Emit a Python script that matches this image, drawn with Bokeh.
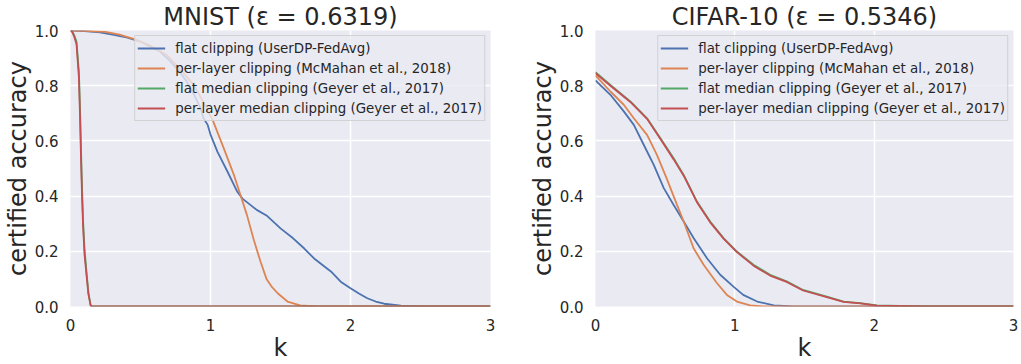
from bokeh.plotting import figure
from bokeh.layouts import row
from bokeh.models import FixedTicker, PrintfTickFormatter, Range1d
from bokeh.embed import file_html
from bokeh.resources import INLINE

labels = [
    "flat clipping (UserDP-FedAvg)",
    "per-layer clipping (McMahan et al., 2018)",
    "flat median clipping (Geyer et al., 2017)",
    "per-layer median clipping (Geyer et al., 2017)",
]
colors = ["#4C72B0", "#DD8452", "#55A868", "#C44E52"]

# MNIST
mnist_k_flat = [0, 0.1, 0.21, 0.3, 0.4, 0.5, 0.57, 0.64, 0.71, 0.78, 0.83, 0.88, 0.93, 0.95, 0.98, 1.0, 1.05, 1.12,
                1.19, 1.23, 1.28, 1.33, 1.40, 1.50, 1.59, 1.67, 1.74, 1.86, 1.93, 2.0, 2.06, 2.12, 2.18, 2.24, 2.36, 2.5, 3.0]
mnist_acc_flat = [1.0, 0.998, 0.993, 0.985, 0.975, 0.96, 0.942, 0.924, 0.89, 0.85, 0.815, 0.77, 0.718, 0.682, 0.658,
                  0.623, 0.56, 0.49, 0.417, 0.39, 0.37, 0.35, 0.33, 0.283, 0.247, 0.21, 0.174, 0.127, 0.09, 0.066,
                  0.047, 0.03, 0.018, 0.01, 0.003, 0.0, 0.0]
mnist_k_pl = [0, 0.1, 0.25, 0.35, 0.45, 0.57, 0.69, 0.8, 0.88, 0.95, 1.02, 1.095, 1.167, 1.21, 1.26, 1.31, 1.357,
              1.40, 1.44, 1.48, 1.55, 1.64, 1.76, 3.0]
mnist_acc_pl = [1.0, 0.999, 0.995, 0.985, 0.97, 0.945, 0.91, 0.85, 0.803, 0.74, 0.67, 0.573, 0.477, 0.41, 0.332,
                0.24, 0.163, 0.10, 0.07, 0.048, 0.018, 0.004, 0.0, 0.0]
mnist_k_med = [0, 0.01, 0.025, 0.043, 0.06, 0.068, 0.076, 0.083, 0.09, 0.1, 0.114, 0.128, 0.143, 0.15, 3.0]
mnist_acc_flatmed = [1.0, 0.998, 0.985, 0.96, 0.85, 0.72, 0.55, 0.42, 0.31, 0.21, 0.127, 0.05, 0.007, 0.0, 0.0]
mnist_acc_plmed = [1.0, 0.997, 0.98, 0.95, 0.83, 0.69, 0.52, 0.39, 0.29, 0.19, 0.115, 0.045, 0.005, 0.0, 0.0]

# CIFAR-10
cifar_k_flat = [0, 0.107, 0.203, 0.275, 0.346, 0.418, 0.49, 0.561, 0.633, 0.704, 0.80, 0.895, 0.99, 1.06, 1.16,
                1.28, 1.42, 3.0]
cifar_acc_flat = [0.819, 0.767, 0.707, 0.658, 0.586, 0.513, 0.429, 0.368, 0.308, 0.248, 0.175, 0.115, 0.072, 0.042,
                  0.018, 0.004, 0.0, 0.0]
cifar_k_pl = [0, 0.107, 0.203, 0.275, 0.37, 0.44, 0.51, 0.585, 0.633, 0.704, 0.776, 0.871, 0.943, 1.015, 1.11, 1.2, 3.0]
cifar_acc_pl = [0.837, 0.779, 0.731, 0.682, 0.622, 0.55, 0.465, 0.368, 0.308, 0.211, 0.151, 0.085, 0.042, 0.018,
                0.004, 0.0, 0.0]
cifar_k_med = [0, 0.107, 0.25, 0.37, 0.466, 0.561, 0.633, 0.728, 0.823, 0.919, 1.015, 1.134, 1.253, 1.372, 1.49,
               1.66, 1.78, 1.90, 2.02, 2.26, 2.38, 3.0]
cifar_acc_flatmed = [0.849, 0.803, 0.743, 0.682, 0.61, 0.537, 0.477, 0.38, 0.308, 0.248, 0.199, 0.151, 0.115, 0.091,
                     0.06, 0.036, 0.018, 0.012, 0.004, 0.001, 0.0, 0.0]
cifar_acc_plmed = [0.845, 0.80, 0.741, 0.68, 0.607, 0.533, 0.474, 0.378, 0.305, 0.246, 0.197, 0.148, 0.112, 0.089,
                   0.058, 0.034, 0.017, 0.011, 0.003, 0.001, 0.0, 0.0]

x_ticks = [0, 1, 2, 3]
y_ticks = [0.0, 0.2, 0.4, 0.6, 0.8, 1.0]

FONT = "DejaVu Sans"
TXT = "#262626"


def make(title, series, border_left, border_right, fw):
    p = figure(frame_width=fw, frame_height=276, min_border_left=border_left, min_border_right=border_right,
               min_border_top=0, min_border_bottom=0,
               x_range=Range1d(0, 3), y_range=Range1d(0, 1),
               output_backend="svg", toolbar_location=None, title=title)
    p.title.text_font = FONT
    p.title.text_font_size = "24px"
    p.title.text_font_style = "normal"
    p.title.text_color = TXT
    p.title.align = "center"
    p.title.standoff = 0
    p.title.text_line_height = 0.9
    p.background_fill_color = "#EAEAF2"
    p.border_fill_color = "white"
    p.outline_line_color = None
    for ax in (p.xaxis[0], p.yaxis[0]):
        ax.axis_line_color = None
        ax.major_tick_line_color = None
        ax.minor_tick_line_color = None
        ax.major_label_text_font = FONT
        ax.major_label_text_font_size = "15px"
        ax.major_label_text_color = TXT
        ax.axis_label_text_font = FONT
        ax.axis_label_text_font_size = "24px"
        ax.axis_label_text_font_style = "normal"
        ax.axis_label_text_color = TXT
    p.xaxis.major_label_standoff = 6
    p.yaxis.major_label_standoff = 6
    p.xaxis.ticker = FixedTicker(ticks=x_ticks)
    p.yaxis.ticker = FixedTicker(ticks=y_ticks)
    p.yaxis.formatter = PrintfTickFormatter(format="%.1f")
    p.xaxis.axis_label = "k"
    p.yaxis.axis_label = "certified accuracy"
    p.xaxis.axis_label_standoff = 0
    p.yaxis.axis_label_standoff = 0
    p.grid.grid_line_color = "white"
    p.grid.grid_line_width = 1.5
    for (kx, ya), lab, col in zip(series, labels, colors):
        p.line(kx, ya, line_color=col, line_width=1.8, legend_label=lab)
    lg = p.legend[0]
    lg.location = "top_right"
    lg.margin = 5
    lg.padding = 2
    lg.spacing = 0
    lg.glyph_width = 28
    lg.glyph_height = 20
    lg.label_height = 20
    lg.label_standoff = 10
    lg.label_text_font = FONT
    lg.label_text_font_size = "13.4px"
    lg.label_text_color = TXT
    lg.background_fill_color = "#EAEAF2"
    lg.background_fill_alpha = 0.8
    lg.border_line_color = "#cccccc"
    lg.border_line_alpha = 0.8
    return p


p1 = make("MNIST (\u03b5 = 0.6319)", [(mnist_k_flat, mnist_acc_flat), (mnist_k_pl, mnist_acc_pl),
                                      (mnist_k_med, mnist_acc_flatmed), (mnist_k_med, mnist_acc_plmed)], 70, 20, 420)
p2 = make("CIFAR-10 (\u03b5 = 0.5346)", [(cifar_k_flat, cifar_acc_flat), (cifar_k_pl, cifar_acc_pl),
                                         (cifar_k_med, cifar_acc_flatmed), (cifar_k_med, cifar_acc_plmed)], 85, 8, 418)

layout = row(p1, p2, spacing=0)
open("out.html", "w").write(file_html(layout, INLINE))
